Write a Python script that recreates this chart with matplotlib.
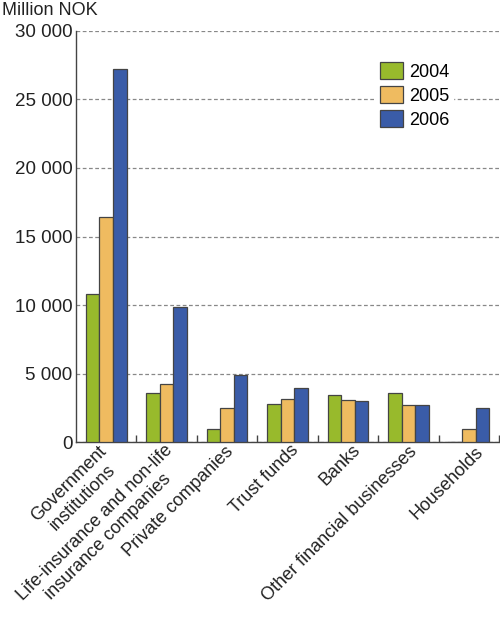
import matplotlib
matplotlib.use("Agg")
import matplotlib.pyplot as plt
import matplotlib.transforms as mtransforms
import numpy as np
from matplotlib.ticker import FuncFormatter

plt.rcParams['font.family'] = ['Liberation Sans', 'DejaVu Sans']

categories = ["Government\ninstitutions",
              "Life-insurance and non-life\ninsurance companies",
              "Private companies", "Trust funds", "Banks",
              "Other financial businesses", "Households"]
years = ["2004", "2005", "2006"]
v2004 = [10800, 3550, 950, 2750, 3400, 3550, 0]
v2005 = [16400, 4230, 2460, 3120, 3090, 2720, 950]
v2006 = [27200, 9830, 4900, 3960, 2990, 2720, 2460]
yticks = [0, 5000, 10000, 15000, 20000, 25000, 30000]

colors = ["#98BA2C", "#EFBB60", "#3A5CA8"]

fig = plt.figure(figsize=(5, 6.3), dpi=100)
ax = fig.add_axes([0.152, 0.2984, 0.846, 0.6524])

x = np.arange(len(categories))
w = 0.225
series = [v2004, v2005, v2006]
for i, (vals, c, yr) in enumerate(zip(series, colors, years)):
    ax.bar(x + (i - 1) * w, vals, width=w, color=c, edgecolor="#444444",
           linewidth=0.9, label=yr, zorder=3)

ax.set_xlim(-0.5, len(categories) - 0.5)
ax.set_ylim(0, 30000)
ax.set_yticks(yticks)
ax.yaxis.set_major_formatter(FuncFormatter(lambda v, p: f"{int(v):,}".replace(",", " ")))
ax.tick_params(axis='y', length=0, labelsize=13.5, pad=2.5, colors="#222222")
ax.grid(axis='y', linestyle=(0, (3, 2)), color="#888888", linewidth=0.9, zorder=0)

ax.set_xticks(x)
ax.set_xticklabels(categories, rotation=45, ha='right', rotation_mode='anchor',
                   fontsize=13, multialignment='center', color="#222222")
ax.tick_params(axis='x', length=0, pad=4)
# per-label pixel nudges (label placement in the reference is hand-tuned)
nudges = [(-8, 5), (-3, 6), (-2, 4.5), (2.5, 6), (4, 6), (0, 4.5), (6, 4.5)]
for lab, (dx, dy) in zip(ax.get_xticklabels(), nudges):
    off = mtransforms.ScaledTranslation(dx / 100, dy / 100, fig.dpi_scale_trans)
    lab.set_transform(lab.get_transform() + off)
ax.set_xticks(np.arange(0.5, len(categories)), minor=True)
ax.tick_params(axis='x', which='minor', direction='in', length=5, width=1, color="#444444")

for s in ['top', 'right']:
    ax.spines[s].set_visible(False)
for s in ['left', 'bottom']:
    ax.spines[s].set_color("#444444")
    ax.spines[s].set_linewidth(1.0)

leg = ax.legend(loc='upper left', bbox_to_anchor=(0.71, 0.933), frameon=True,
                fontsize=13, handlelength=1.3, handleheight=1.1,
                handletextpad=0.3, labelspacing=0.28, borderpad=0.2,
                borderaxespad=0)
leg.get_frame().set_edgecolor("white")
leg.get_frame().set_facecolor("white")
leg.get_frame().set_alpha(1)
leg.set_zorder(5)

fig.text(0.004, 0.984, "Million NOK", fontsize=13, va='center', ha='left', color="#222222")

fig.savefig("out.png", dpi=100)
